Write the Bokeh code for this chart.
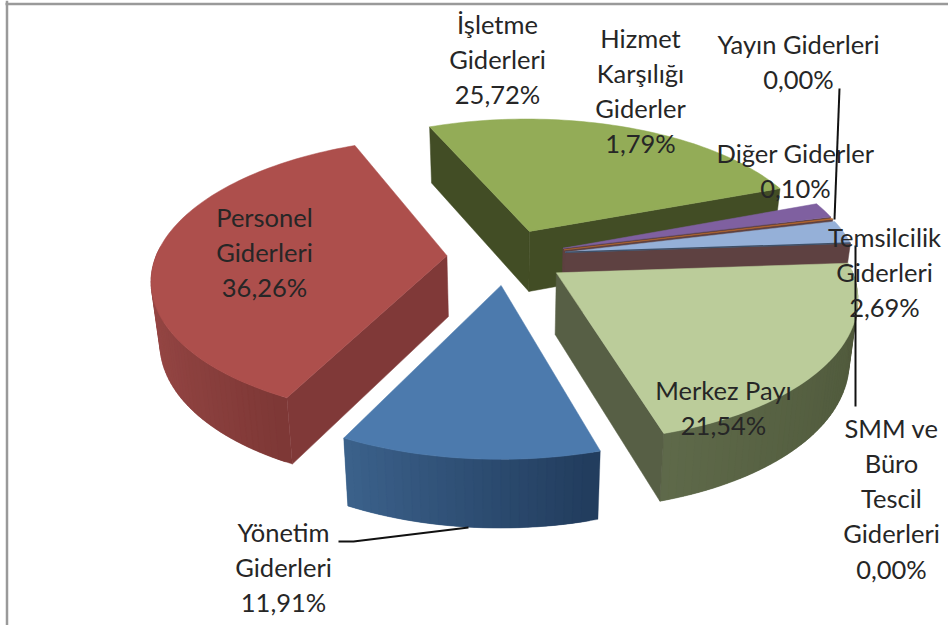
import math
from bokeh.plotting import figure
from bokeh.embed import file_html
from bokeh.resources import INLINE
from bokeh.core.properties import value

# ---- data (clockwise from the first slice) ----
categories = ["İşletme Giderleri", "Hizmet Karşılığı Giderler", "Yayın Giderleri", "Diğer Giderler",
              "Temsilcilik Giderleri", "SMM ve Büro Tescil Giderleri", "Merkez Payı",
              "Yönetim Giderleri", "Personel Giderleri"]
shares = [25.72, 1.79, 0.00, 0.10, 2.69, 0.00, 21.54, 11.91, 36.26]
label_lines = [["İşletme", "Giderleri"], ["Hizmet", "Karşılığı", "Giderler"], ["Yayın Giderleri"],
               ["Diğer Giderler"], ["Temsilcilik", "Giderleri"], ["SMM ve", "Büro", "Tescil", "Giderleri"],
               ["Merkez Payı"], ["Yönetim", "Giderleri"], ["Personel", "Giderleri"]]

# ---- style / layout ----
top_colors = ["#93ac57", "#7f60a0", "#4f6b9c", "#bd6c2e", "#95b0d8", "#5e4141", "#bbcc9a", "#4c7aad", "#ad4f4c"]
wall_colors = ["#424d25", "#5e4141", "#5e4141", "#5e4141", "#5e4141", "#5e4141", "#575f45", "#2a4766", "#803938"]
arc_left = ["#5f7035", "#4a3863", "#4a3863", "#7a431c", "#5e4141", "#5e4141", "#5f6a4a", "#3c628c", "#974745"]
arc_right = ["#4a5729", "#4a3863", "#4a3863", "#7a431c", "#5e4141", "#5e4141", "#505a3c", "#223d5e", "#7e3836"]
draw_order = [0, 1, 3, 4, 8, 6, 7]
label_pos = [(497, 23), (640, 37), (798, 43), (795, 152), (884, 236), (891, 427), (723, 389), (283, 531), (264, 216)]
LINE_H = 35.3
CX, CY, R, A, K, EXPL, START = 506, 256, 291, 137, 0.155, 0.205, -23.0
DEPTH, FONT_PX = 61, 25.5


def project(theta, mid, rad=1.0):
    ox, oy = EXPL * math.sin(mid), -EXPL * math.cos(mid)
    x, y = ox + rad * math.sin(theta), oy - rad * math.cos(theta)
    s = 1 / (1 - K * y)
    return CX + R * x * s, CY + A * y * s, s


def lower(theta, mid, rad=1.0):
    x, y, s = project(theta, mid, rad)
    return CX + (x - CX) * 0.975, y + DEPTH * (1 + 0.55 * (s - 1))


def mix(c1, c2, t):
    a = [int(c1[i:i + 2], 16) for i in (1, 3, 5)]
    b = [int(c2[i:i + 2], 16) for i in (1, 3, 5)]
    return "#%02x%02x%02x" % tuple(round(u + (v - u) * t) for u, v in zip(a, b))


p = figure(width=948, height=625, x_range=(0, 948), y_range=(625, 0), output_backend="svg",
           toolbar_location=None, min_border=0, margin=(0, 0, 0, 0), outline_line_color=None,
           background_fill_color="white", border_fill_color="white")
p.axis.visible = False
p.grid.visible = False

# frame of the screenshot
p.segment([6.5, 5], [0, 3.5], [6.5, 948], [625, 3.5], line_color="#9a9a9a", line_width=2.5)

# slice spans
spans, cur = [], math.radians(START)
for v in shares:
    nxt = cur + v / sum(shares) * 2 * math.pi
    spans.append((cur, nxt))
    cur = nxt

for i in draw_order:
    a0, a1 = spans[i]
    mid = (a0 + a1) / 2
    n = max(3, int((a1 - a0) * 40))
    thetas = [a0 + (a1 - a0) * j / n for j in range(n + 1)]
    # outer wall strips (front-facing part only); each overlaps the next so no seams show
    front = [j for j in range(n) if math.cos(thetas[j]) < 0.03]
    if front:
        sines = [math.sin(thetas[j]) for j in front]
        lo, hi = min(sines), max(sines)
        for j in sorted(front, key=lambda j: math.sin(thetas[j])):
            e = min(j + 2, n)
            u0, v0, _ = project(thetas[j], mid)
            um, vm, _ = project(thetas[e], mid)
            wm, zm = lower(thetas[e], mid)
            w0, z0 = lower(thetas[j], mid)
            t = (math.sin(thetas[j]) - lo) / (hi - lo) if hi > lo else 0
            col = mix(arc_left[i], arc_right[i], t)
            p.patch([u0, um, wm, w0], [v0, vm, zm, z0], fill_color=col, line_color=col, line_width=0.3)
    # radial walls, only those facing the viewer
    mx, my, _ = project(mid, mid, 0.5)
    for th in (a0, a1):
        p0 = project(th, mid, 0)[:2]
        p1 = project(th, mid)[:2]
        q1 = lower(th, mid)
        q0 = lower(th, mid, 0)
        edge_y = p0[1] + (p1[1] - p0[1]) * (mx - p0[0]) / (p1[0] - p0[0])
        if my < edge_y:
            p.patch([p0[0], p1[0], q1[0], q0[0]], [p0[1], p1[1], q1[1], q0[1]],
                    fill_color=wall_colors[i], line_color=wall_colors[i], line_width=0.5)
    # top
    top = [project(t, mid)[:2] for t in thetas]
    ap = project(a0, mid, 0)[:2]
    p.patch([ap[0]] + [t[0] for t in top], [ap[1]] + [t[1] for t in top],
            fill_color=top_colors[i], line_color=top_colors[i], line_width=0.5)
    # dark seam under the Temsilcilik slice
    if i == 4:
        e0, e1 = project(a1, mid, 0), project(a1, mid)
        p.line([e0[0], e1[0]], [e0[1], e1[1]], line_color="#3f5068", line_width=1.5)

# leader lines
p.line([839, 834], [88, 219], line_color="#111111", line_width=2)
p.line([855, 855], [245, 406], line_color="#111111", line_width=2)
p.line([338, 353, 468], [541, 541, 527], line_color="#111111", line_width=2)

# labels
tx, ty, tt = [], [], []
for lines, v, (x, y) in zip(label_lines, shares, label_pos):
    for k, s in enumerate(lines + [f"{v:.2f}%".replace(".", ",")]):
        tx.append(x)
        ty.append(y + k * LINE_H)
        tt.append(s)
p.text(tx, ty, text=tt, text_font=value("Lato"), text_font_size=f"{FONT_PX}px", text_color="#262626",
       text_align="center", text_baseline="middle")

open("out.html", "w").write(file_html(p, INLINE))
